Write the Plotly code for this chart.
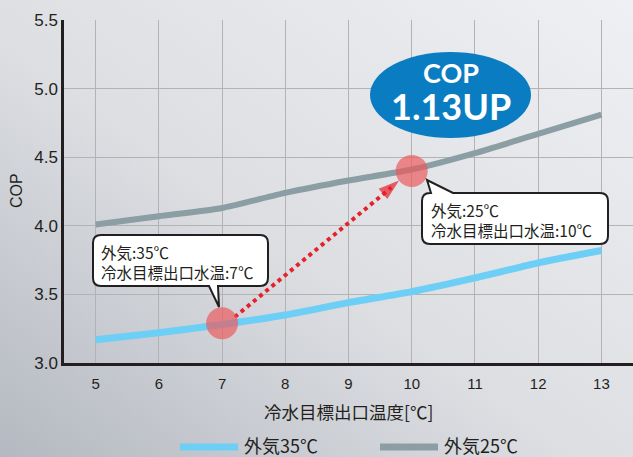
import base64
import plotly.graph_objects as go

# ---- data ----
water_temp = [5, 6, 7, 8, 9, 10, 11, 12, 13]
cop_35 = [3.17, 3.22, 3.28, 3.35, 3.44, 3.52, 3.62, 3.73, 3.82]
cop_25 = [4.01, 4.07, 4.13, 4.24, 4.33, 4.41, 4.53, 4.67, 4.81]
highlight_x = [7, 10]
highlight_y = [3.29, 4.40]
y_ticks = [3.0, 3.5, 4.0, 4.5, 5.0, 5.5]
series_names = ["外気35℃", "外気25℃"]

W, H = 633, 457
ML, MR, MT, MB = 64, 0, 20, 94
X0, X1 = 4.5, 13.5
Y0, Y1 = 3.0, 5.5
pw = W - ML - MR
ph = H - MT - MB
sx = pw / (X1 - X0)
sy = ph / (Y1 - Y0)

def dx(px):
    return X0 + (px - ML) / sx

def dy(py):
    return Y1 - (py - MT) / sy

FONT = "Noto Sans CJK JP"
NUMFONT = "Liberation Sans, Arial, sans-serif"

BLUE = "#6dcff6"
GRAY = "#8b9ea3"

fig = go.Figure()

fig.add_trace(go.Scatter(x=water_temp, y=cop_35, mode="lines", name=series_names[0],
                         line=dict(color=BLUE, width=7, shape="spline", smoothing=0.6),
                         showlegend=False))
fig.add_trace(go.Scatter(x=water_temp, y=cop_25, mode="lines", name=series_names[1],
                         line=dict(color=GRAY, width=6, shape="spline", smoothing=0.6),
                         showlegend=False))

# dotted arrow between highlight points
ax_start = (highlight_x[0] + 0.2, highlight_y[0] + 0.045)
ax_end = (highlight_x[1] - 0.2, highlight_y[1] - 0.07)
fig.add_trace(go.Scatter(x=[ax_start[0], ax_end[0] - 0.12], y=[ax_start[1], ax_end[1] - 0.05],
                         mode="lines", line=dict(color="#e8202a", width=4, dash="dot"),
                         showlegend=False, hoverinfo="skip"))
fig.add_trace(go.Scatter(x=[ax_start[0], ax_end[0]], y=[ax_start[1], ax_end[1]],
                         mode="markers",
                         marker=dict(symbol="arrow", angleref="previous", size=[0, 22],
                                     color="#e8202a", line=dict(width=0)),
                         showlegend=False, hoverinfo="skip"))

# highlight circles
fig.add_trace(go.Scatter(x=highlight_x, y=highlight_y, mode="markers",
                         marker=dict(size=32, color="rgba(236,88,92,0.68)", line=dict(width=0)),
                         showlegend=False, hoverinfo="skip"))

# ---- callout boxes ----
def callout(bx0, bx1, by_top, by_bot, tail, where, r=8):
    x0, x1, yt, yb = dx(bx0), dx(bx1), dy(by_top), dy(by_bot)
    rx, ry = r / sx, r / sy
    p = []
    (tl, tr, tip) = tail
    if where == "top":
        p.append(f"M {x0+rx},{yt}")
        p.append(f"L {dx(tl)},{yt} L {dx(tip[0])},{dy(tip[1])} L {dx(tr)},{yt}")
        p.append(f"L {x1-rx},{yt} Q {x1},{yt} {x1},{yt-ry}")
        p.append(f"L {x1},{yb+ry} Q {x1},{yb} {x1-rx},{yb}")
        p.append(f"L {x0+rx},{yb} Q {x0},{yb} {x0},{yb+ry}")
        p.append(f"L {x0},{yt-ry} Q {x0},{yt} {x0+rx},{yt} Z")
    else:
        p.append(f"M {x0+rx},{yt}")
        p.append(f"L {x1-rx},{yt} Q {x1},{yt} {x1},{yt-ry}")
        p.append(f"L {x1},{yb+ry} Q {x1},{yb} {x1-rx},{yb}")
        p.append(f"L {dx(tr)},{yb} L {dx(tip[0])},{dy(tip[1])} L {dx(tl)},{yb}")
        p.append(f"L {x0+rx},{yb} Q {x0},{yb} {x0},{yb+ry}")
        p.append(f"L {x0},{yt-ry} Q {x0},{yt} {x0+rx},{yt} Z")
    return dict(type="path", xref="x", yref="y", path=" ".join(p),
                fillcolor="white", line=dict(color="#231f20", width=2), layer="above")

shapes = []
shapes.append(callout(93, 268, 235, 286, (209, 218, (219, 307)), "bottom"))
shapes.append(callout(422, 608, 193, 244, (431, 453, (427, 180)), "top"))

# blue ellipse
shapes.append(dict(type="circle", xref="x", yref="y", x0=dx(370), x1=dx(531), y0=dy(138), y1=dy(52),
                   fillcolor="#0a7cc2", line=dict(width=0), layer="above"))

# legend line samples
ly = 1 - (447 - MT) / ph
shapes.append(dict(type="line", xref="paper", yref="paper",
                   x0=(180 - ML) / pw, x1=(238 - ML) / pw, y0=ly, y1=ly,
                   line=dict(color=BLUE, width=7), layer="above"))
shapes.append(dict(type="line", xref="paper", yref="paper",
                   x0=(380 - ML) / pw, x1=(438 - ML) / pw, y0=ly, y1=ly,
                   line=dict(color=GRAY, width=7), layer="above"))

annotations = []
def ann_px(text, px, py, size, color="#231f20", xanchor="left", family=FONT, angle=0, bold=False):
    annotations.append(dict(text=(f"<b>{text}</b>" if bold else text), xref="paper", yref="paper",
                            x=(px - ML) / pw, y=1 - (py - MT) / ph, xanchor=xanchor, yanchor="middle",
                            showarrow=False, textangle=angle,
                            font=dict(family=family, size=size, color=color)))

ann_px("外気:35℃", 99, 252, 15.5)
ann_px("冷水目標出口水温:7℃", 99, 272, 15.5)
ann_px("外気:25℃", 429, 210, 15.5)
ann_px("冷水目標出口水温:10℃", 429, 230, 15.5)
ann_px("COP", 451, 72, 27, color="white", xanchor="center", bold=True, family="Lato")
ann_px("1.13UP", 451, 106, 36, color="white", xanchor="center", bold=True, family="Lato")
ann_px("冷水目標出口温度[℃]", 348, 411, 17.5, xanchor="center")
ann_px("COP", 17, 191, 16, xanchor="center", angle=-90, family=NUMFONT)
ann_px(series_names[0], 242, 445, 18)
ann_px(series_names[1], 442, 445, 18)

# background gradient image
svg = f'''<svg xmlns="http://www.w3.org/2000/svg" width="{W}" height="{H}" viewBox="0 0 {W} {H}" preserveAspectRatio="none">
<defs><linearGradient id="g" x1="1" y1="0" x2="0" y2="1">
<stop offset="0" stop-color="#eff0f3"/><stop offset="0.55" stop-color="#dcdee2"/><stop offset="1" stop-color="#b4b8c0"/>
</linearGradient></defs>
<rect width="{W}" height="{H}" fill="url(#g)"/></svg>'''
uri = "data:image/svg+xml;base64," + base64.b64encode(svg.encode()).decode()

fig.update_layout(
    width=W, height=H,
    margin=dict(l=ML, r=MR, t=MT, b=MB, autoexpand=False),
    paper_bgcolor="#e2e4e8",
    plot_bgcolor="rgba(255,255,255,0.55)",
    shapes=shapes,
    annotations=annotations,
    images=[dict(source=uri, xref="paper", yref="paper", x=-ML / pw, y=1 + MT / ph,
                 sizex=W / pw, sizey=H / ph, sizing="stretch", xanchor="left", yanchor="top",
                 layer="below")],
    xaxis=dict(range=[X0, X1], tickvals=water_temp, showgrid=True, gridcolor="#b3b3b3", gridwidth=1,
               zeroline=False, showline=True, linecolor="#231f20", linewidth=2.5,
               tickfont=dict(family=NUMFONT, size=15, color="#231f20"), ticks="", ticklen=0,
               ticklabelstandoff=5, automargin=False, fixedrange=True),
    yaxis=dict(range=[Y0, Y1], tickvals=y_ticks, tickformat=".1f", showgrid=True, gridcolor="#b3b3b3",
               gridwidth=1, zeroline=False, showline=True, linecolor="#231f20", linewidth=2.5,
               tickfont=dict(family=NUMFONT, size=17, color="#231f20"), ticks="", ticklen=0,
               automargin=False, fixedrange=True),
    showlegend=False,
)

fig.write_html("out.html", config={"displayModeBar": False},
               post_script="document.body.style.margin='0';document.body.style.overflow='hidden';")
